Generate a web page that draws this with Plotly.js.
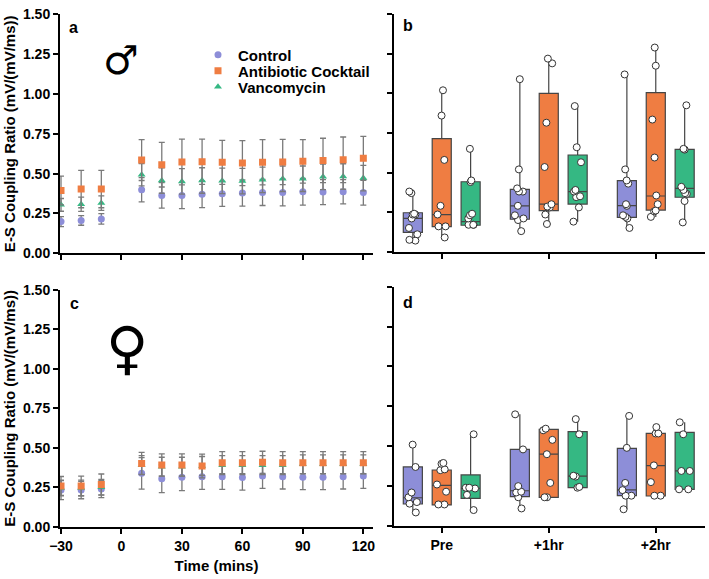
<!DOCTYPE html>
<html>
<head>
<meta charset="utf-8">
<script src="https://cdn.plot.ly/plotly-3.0.1.min.js"></script>
<style>
  html, body { margin: 0; padding: 0; background: #fff; }
  #chart { width: 709px; height: 579px; }
</style>
</head>
<body>
<div id="chart"></div>
<script>
// time course (panels a, c)
var timePoints = [-30, -20, -10, 10, 20, 30, 40, 50, 60, 70, 80, 90, 100, 110, 120];

var maleControl    = [0.199, 0.206, 0.216, 0.399, 0.363, 0.363, 0.371, 0.373, 0.378, 0.382, 0.382, 0.386, 0.384, 0.386, 0.382];
var maleControlErr = [0.031, 0.030, 0.033, 0.076, 0.080, 0.082, 0.084, 0.079, 0.082, 0.082, 0.084, 0.084, 0.078, 0.076, 0.080];
var maleAbx        = [0.394, 0.403, 0.403, 0.585, 0.556, 0.573, 0.575, 0.571, 0.566, 0.571, 0.573, 0.577, 0.583, 0.587, 0.596];
var maleAbxErr     = [0.090, 0.117, 0.117, 0.128, 0.140, 0.144, 0.142, 0.138, 0.141, 0.142, 0.142, 0.136, 0.139, 0.143, 0.138];
var maleVanc       = [0.304, 0.308, 0.315, 0.493, 0.457, 0.451, 0.457, 0.455, 0.453, 0.461, 0.468, 0.468, 0.480, 0.482, 0.472];
var maleVancErr    = [0.040, 0.045, 0.045, 0.070, 0.080, 0.080, 0.080, 0.080, 0.080, 0.080, 0.080, 0.080, 0.080, 0.080, 0.080];

var femControl    = [0.232, 0.232, 0.239, 0.338, 0.304, 0.313, 0.317, 0.317, 0.311, 0.321, 0.317, 0.313, 0.313, 0.317, 0.321];
var femControlErr = [0.060, 0.055, 0.055, 0.100, 0.088, 0.085, 0.080, 0.080, 0.079, 0.078, 0.078, 0.078, 0.078, 0.078, 0.078];
var femAbx        = [0.258, 0.258, 0.268, 0.401, 0.391, 0.391, 0.385, 0.406, 0.406, 0.408, 0.406, 0.406, 0.406, 0.406, 0.406];
var femAbxErr     = [0.060, 0.062, 0.066, 0.070, 0.070, 0.070, 0.075, 0.070, 0.070, 0.070, 0.070, 0.070, 0.070, 0.070, 0.070];
var femVanc       = [0.245, 0.245, 0.250, 0.390, 0.380, 0.380, 0.385, 0.390, 0.390, 0.390, 0.390, 0.395, 0.395, 0.395, 0.395];
var femVancErr    = [0.050, 0.050, 0.050, 0.060, 0.060, 0.060, 0.060, 0.060, 0.060, 0.060, 0.060, 0.060, 0.060, 0.060, 0.060];

// box plots (panels b, d)
var phases = ['Pre', '+1hr', '+2hr'];

var maleControlPts = [
  [0.38, 0.37, 0.24, 0.235, 0.235, 0.21, 0.15, 0.11, 0.075, 0.07],
  [1.09, 0.52, 0.40, 0.38, 0.38, 0.29, 0.23, 0.21, 0.20, 0.13],
  [1.12, 0.52, 0.45, 0.43, 0.30, 0.29, 0.23, 0.22, 0.21, 0.15]
];
var maleControlQ1  = [0.122, 0.205, 0.217];
var maleControlMed = [0.210, 0.289, 0.291];
var maleControlQ3  = [0.246, 0.394, 0.449];

var maleAbxPts = [
  [1.02, 0.86, 0.58, 0.29, 0.235, 0.16, 0.16, 0.09],
  [1.22, 1.19, 0.815, 0.535, 0.30, 0.285, 0.28, 0.235, 0.175],
  [1.29, 1.175, 0.835, 0.595, 0.355, 0.30, 0.26, 0.255, 0.22]
];
var maleAbxQ1  = [0.158, 0.259, 0.263];
var maleAbxMed = [0.234, 0.301, 0.352];
var maleAbxQ3  = [0.714, 1.000, 1.005];

var maleVancPts = [
  [0.65, 0.45, 0.44, 0.24, 0.23, 0.21, 0.17, 0.17, 0.17],
  [0.92, 0.66, 0.565, 0.39, 0.38, 0.35, 0.345, 0.28, 0.19],
  [0.925, 0.65, 0.645, 0.41, 0.39, 0.37, 0.365, 0.32, 0.185]
];
var maleVancQ1  = [0.167, 0.301, 0.344];
var maleVancMed = [0.190, 0.379, 0.400];
var maleVancQ3  = [0.442, 0.611, 0.647];

var femControlPts = [
  [0.51, 0.37, 0.21, 0.18, 0.15, 0.14, 0.085],
  [0.70, 0.48, 0.25, 0.215, 0.21, 0.18, 0.11],
  [0.69, 0.49, 0.27, 0.225, 0.19, 0.19, 0.105]
];
var femControlQ1  = [0.138, 0.184, 0.190];
var femControlMed = [0.177, 0.221, 0.226];
var femControlQ3  = [0.370, 0.480, 0.487];

var femAbxPts = [
  [0.395, 0.39, 0.355, 0.35, 0.26, 0.215, 0.135, 0.135],
  [0.61, 0.60, 0.54, 0.45, 0.27, 0.18, 0.18],
  [0.62, 0.58, 0.58, 0.38, 0.275, 0.19, 0.19]
];
var femAbxQ1  = [0.132, 0.180, 0.188];
var femAbxMed = [0.255, 0.451, 0.378];
var femAbxQ3  = [0.351, 0.606, 0.581];

var femVancPts = [
  [0.575, 0.24, 0.24, 0.235, 0.195, 0.10],
  [0.67, 0.575, 0.315, 0.31, 0.245, 0.24],
  [0.65, 0.575, 0.345, 0.345, 0.23, 0.23]
];
var femVancQ1  = [0.173, 0.240, 0.230];
var femVancMed = [0.236, 0.313, 0.345];
var femVancQ3  = [0.320, 0.591, 0.587];

var colControl = '#8d8ed8';
var colAbx = '#ef7d42';
var colVanc = '#35b883';

var W = 709, H = 579;
function px(x) { return x / W; }
function py(y) { return (H - y) / H; }

var FONT = 'Liberation Sans, Arial, sans-serif';

function timeTrace(name, yv, err, color, symbol, xa, ya, legend) {
  var t = {
    x: timePoints, y: yv, name: name, type: 'scatter', mode: 'markers',
    xaxis: xa, yaxis: ya, showlegend: !!legend,
    marker: {color: color, symbol: symbol, size: 7},
    error_y: {type: 'data', array: err, color: '#7a7a7a', thickness: 1.3, width: 3}
  };
  if (legend) t.legend = legend;
  return t;
}

function boxTrace(name, pts, q1, med, q3, color, xa, ya, panel) {
  var lo = pts.map(function(p) { return Math.min.apply(null, p); });
  var hi = pts.map(function(p) { return Math.max.apply(null, p); });
  return {
    type: 'box', name: name, x: phases, y: pts,
    q1: q1, median: med, q3: q3, lowerfence: lo, upperfence: hi,
    xaxis: xa, yaxis: ya, showlegend: false,
    alignmentgroup: panel, offsetgroup: name,
    fillcolor: color, line: {color: '#454545', width: 1.2},
    whiskerwidth: 0, boxpoints: 'all', jitter: 0.6, pointpos: 0,
    marker: {color: '#ffffff', size: 7, line: {color: '#333333', width: 1}}
  };
}

var data = [
  timeTrace('Control', maleControl, maleControlErr, colControl, 'circle', 'x', 'y', 'legend'),
  timeTrace('Vancomycin', maleVanc, maleVancErr, colVanc, 'triangle-up', 'x', 'y', 'legend3'),
  timeTrace('Antibiotic Cocktail', maleAbx, maleAbxErr, colAbx, 'square', 'x', 'y', 'legend2'),
  timeTrace('Control', femControl, femControlErr, colControl, 'circle', 'x3', 'y3', null),
  timeTrace('Vancomycin', femVanc, femVancErr, colVanc, 'triangle-up', 'x3', 'y3', null),
  timeTrace('Antibiotic Cocktail', femAbx, femAbxErr, colAbx, 'square', 'x3', 'y3', null),
  boxTrace('Control', maleControlPts, maleControlQ1, maleControlMed, maleControlQ3, colControl, 'x2', 'y2', 'b'),
  boxTrace('Antibiotic Cocktail', maleAbxPts, maleAbxQ1, maleAbxMed, maleAbxQ3, colAbx, 'x2', 'y2', 'b'),
  boxTrace('Vancomycin', maleVancPts, maleVancQ1, maleVancMed, maleVancQ3, colVanc, 'x2', 'y2', 'b'),
  boxTrace('Control', femControlPts, femControlQ1, femControlMed, femControlQ3, colControl, 'x4', 'y4', 'd'),
  boxTrace('Antibiotic Cocktail', femAbxPts, femAbxQ1, femAbxMed, femAbxQ3, colAbx, 'x4', 'y4', 'd'),
  boxTrace('Vancomycin', femVancPts, femVancQ1, femVancMed, femVancQ3, colVanc, 'x4', 'y4', 'd')
];

var tickFont = {family: FONT, size: 14, color: '#000', weight: 'bold'};
var yTitle = {text: 'E-S Coupling Ratio (mV/(mV/ms))', font: {family: FONT, size: 15, color: '#000', weight: 'bold'}, standoff: 4};

function baseAxis(extra) {
  var a = {
    showline: true, linecolor: '#000', linewidth: 2,
    ticks: 'outside', ticklen: 5, tickwidth: 2, tickcolor: '#000',
    showgrid: false, zeroline: false, tickfont: tickFont, fixedrange: true
  };
  for (var k in extra) a[k] = extra[k];
  return a;
}

function legendAt(y) {
  return {
    x: px(198), y: py(y), xanchor: 'left', yanchor: 'middle',
    bgcolor: 'rgba(0,0,0,0)', borderwidth: 0,
    font: {family: FONT, size: 15, color: '#000', weight: 'bold'}
  };
}

function label(text, x, y, size, family) {
  return {text: text, x: px(x), y: py(y), xref: 'paper', yref: 'paper',
    xanchor: 'center', yanchor: 'middle', showarrow: false,
    font: {family: family || FONT, size: size, color: '#000', weight: 'bold'}};
}

var layout = {
  width: W, height: H,
  margin: {l: 0, r: 0, t: 0, b: 0},
  paper_bgcolor: '#fff', plot_bgcolor: '#fff',
  boxmode: 'group', boxgap: 0.19, boxgroupgap: 0.34,
  font: {family: FONT, color: '#000'},
  xaxis: baseAxis({domain: [px(60), px(373)], range: [-30.5, 124.8], tickvals: [-30, 0, 30, 60, 90, 120], showticklabels: false, anchor: 'y'}),
  yaxis: baseAxis({domain: [py(253.3), py(14.3)], range: [0, 1.5], dtick: 0.25, tickformat: '.2f', anchor: 'x', title: yTitle}),
  xaxis2: baseAxis({domain: [px(394), px(705)], range: [-0.446, 2.46], type: 'category', showticklabels: false, anchor: 'y2'}),
  yaxis2: baseAxis({domain: [py(251.7), py(14.3)], range: [0, 1.5], dtick: 0.25, showticklabels: false, anchor: 'x2'}),
  xaxis3: baseAxis({domain: [px(60), px(373)], range: [-30.5, 124.8], tickvals: [-30, 0, 30, 60, 90, 120], anchor: 'y3',
    title: {text: 'Time (mins)', font: {family: FONT, size: 15, color: '#000', weight: 'bold'}, standoff: 8}}),
  yaxis3: baseAxis({domain: [py(526.7), py(290)], range: [0, 1.5], dtick: 0.25, tickformat: '.2f', anchor: 'x3', title: yTitle}),
  xaxis4: baseAxis({domain: [px(394), px(705)], range: [-0.446, 2.46], type: 'category', anchor: 'y4'}),
  yaxis4: baseAxis({domain: [py(526), py(286.7)], range: [0, 1.5], dtick: 0.25, showticklabels: false, anchor: 'x4'}),
  legend: legendAt(55),
  legend2: legendAt(71),
  legend3: legendAt(87),
  annotations: [
    label('a', 73, 27, 16),
    label('b', 408, 25, 16),
    label('c', 74, 303, 16),
    label('d', 408, 302, 16),
    label('♂', 121, 60, 40, 'DejaVu Sans'),
    label('♀', 127, 348, 58, 'DejaVu Sans')
  ]
};

Plotly.newPlot('chart', data, layout, {displayModeBar: false, staticPlot: true});
</script>
</body>
</html>
